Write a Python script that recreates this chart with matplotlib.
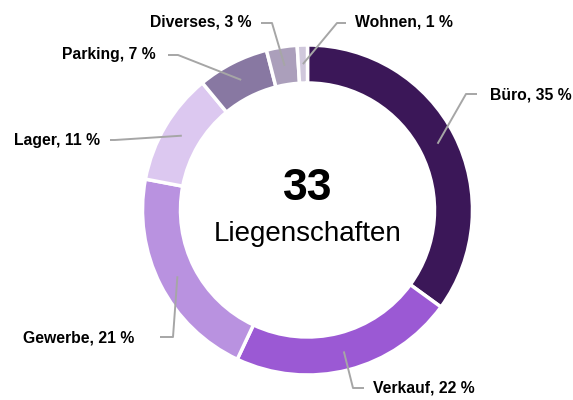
import numpy as np
import matplotlib.pyplot as plt

plt.rcParams['font.family'] = ['Liberation Sans', 'DejaVu Sans']

# data
categories = ['Büro', 'Verkauf', 'Gewerbe', 'Lager', 'Parking', 'Diverses', 'Wohnen']
shares = [35, 22, 21, 11, 7, 3, 1]
colors = ['#3b1758', '#9b59d4', '#b992e0', '#dcc8f0', '#8878a2', '#ab9fbb', '#d0c8dc']
total_count = 33
center_label = 'Liegenschaften'

# layout (pixel coords, y from top): elbow of leader, end of leader, text pos, alignment
label_layout = {
    'Büro':     ((466, 94), (477, 94), (490, 95), 'left'),
    'Verkauf':  ((353, 388), (364, 388), (373, 388), 'left'),
    'Gewerbe':  ((173, 337), (160, 337), (134, 338), 'right'),
    'Lager':    ((115, 140), (110, 140), (100, 141), 'right'),
    'Parking':  ((178, 55), (168, 55), (156, 55), 'right'),
    'Diverses': ((272, 23), (261, 23), (252, 22), 'right'),
    'Wohnen':   ((337, 23), (346, 23), (355, 22), 'left'),
}

W, H = 573, 400
cx, cy, r_out, width = 307.5, H - 210, 165, 38

fig = plt.figure(figsize=(W / 100, H / 100), dpi=100)
ax = fig.add_axes([0, 0, 1, 1])

wedges, _ = ax.pie(shares, colors=colors, startangle=90, counterclock=False,
                   center=(cx, cy), radius=r_out,
                   wedgeprops=dict(width=width, edgecolor='white', linewidth=2.5))
# pie resets the limits, so set them afterwards
ax.set_xlim(0, W)
ax.set_ylim(0, H)
ax.axis('off')

r_mid = r_out - width / 2
for w, name, val in zip(wedges, categories, shares):
    ang = np.deg2rad((w.theta1 + w.theta2) / 2)
    ax_pt = (cx + r_mid * np.cos(ang), cy + r_mid * np.sin(ang))
    elbow, end, tpos, ha = label_layout[name]
    xs = [ax_pt[0], elbow[0], end[0]]
    ys = [ax_pt[1], H - elbow[1], H - end[1]]
    ax.plot(xs, ys, color='#a6a6a6', lw=1.4, solid_capstyle='butt', zorder=3)
    ax.text(tpos[0], H - tpos[1], f'{name}, {val} %', ha=ha, va='center',
            fontsize=11.3, fontweight='bold', color='black')

ax.text(cx, H - 200, str(total_count), ha='center', va='baseline',
        fontsize=32, fontweight='bold')
ax.text(cx, H - 241, center_label, ha='center', va='baseline', fontsize=20)

fig.savefig('out.png', dpi=100)
